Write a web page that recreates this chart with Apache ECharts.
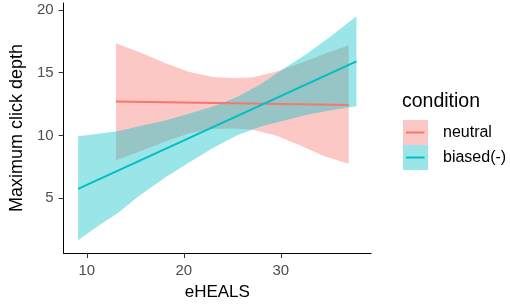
<!DOCTYPE html>
<html>
<head>
<meta charset="utf-8">
<script src="https://cdn.jsdelivr.net/npm/echarts@6/dist/echarts.min.js"></script>
<style>
  html, body { margin: 0; padding: 0; background: #fff; }
  #chart { width: 510px; height: 306px; }
</style>
</head>
<body>
<div id="chart"></div>
<script>
// neutral condition: fitted line + confidence band
const neutralLineX = [13, 37]
const neutralLineY = [12.70, 12.44]
const neutralBandX = [13, 15.5, 18, 20.5, 23, 25, 27, 29.5, 32, 34.5, 37]
const neutralUpper = [17.34, 16.6, 15.8, 15.07, 14.65, 14.58, 14.62, 15.07, 15.75, 16.5, 17.18]
const neutralLower = [8.04, 8.74, 9.5, 10.17, 10.53, 10.57, 10.48, 10.0, 9.2, 8.35, 7.75]

// biased(-) condition
const biasedLineX = [9.1, 37.8]
const biasedLineY = [5.75, 15.9]
const biasedBandX = [9.1, 11, 13.2, 15.5, 18.2, 20.5, 23, 25.5, 28, 30.2, 32.5, 35, 37.8]
const biasedUpper = [9.94, 10.12, 10.35, 10.76, 11.22, 11.73, 12.31, 13.07, 14.13, 15.28, 16.42, 17.8, 19.5]
const biasedLower = [1.67, 2.72, 3.83, 5.26, 6.72, 7.83, 9.01, 10.03, 10.73, 11.16, 11.62, 12.0, 12.34]

const xTicks = [10, 20, 30]
const yTicks = [5, 10, 15, 20]

const RED = '#F8766D'
const TEAL = '#00BFC4'
const FONT = 'Liberation Sans, Arial, sans-serif'

const chart = echarts.init(document.getElementById('chart'))

// 置信带：用一个多边形画整条带
const bandSeries = (name, xs, lo, hi, color) => ({
  name: name,
  type: 'custom',
  data: xs.map((x, i) => [x, lo[i], hi[i]]),
  encode: { x: 0, y: [1, 2] },
  renderItem: function (params, api) {
    if (params.dataIndex !== 0) return
    const pts = []
    for (let i = 0; i < xs.length; i++) pts.push(api.coord([xs[i], hi[i]]))
    for (let i = xs.length - 1; i >= 0; i--) pts.push(api.coord([xs[i], lo[i]]))
    return {
      type: 'polygon',
      shape: { points: pts },
      style: { fill: color, opacity: 0.4 }
    }
  },
  silent: true
})

const lineSeries = (name, xs, ys, color) => ({
  name: name,
  type: 'line',
  data: xs.map((x, i) => [x, ys[i]]),
  showSymbol: false,
  lineStyle: { color: color, width: 2 },
  itemStyle: { color: color },
  silent: true
})

const option = {
  animation: false,
  title: {
    text: 'condition',
    left: 402,
    top: 92,
    padding: 0,
    textStyle: { fontSize: 19.5, fontWeight: 'normal', color: '#000', fontFamily: FONT }
  },
  legend: {
    orient: 'vertical',
    left: 403,
    top: 120,
    padding: 0,
    itemWidth: 25,
    itemHeight: 25,
    itemGap: 0,
    icon: 'rect',
    selectedMode: false,
    data: [
      { name: 'neutral', itemStyle: { color: 'rgba(248,118,109,0.4)' } },
      { name: 'biased(-)', itemStyle: { color: 'rgba(0,191,196,0.4)' } }
    ],
    textStyle: { fontSize: 16, color: '#000', padding: [3, 0, 0, 10], fontFamily: FONT }
  },
  graphic: [
    { type: 'line', shape: { x1: 406, y1: 132.5, x2: 424.5, y2: 132.5 }, style: { stroke: RED, lineWidth: 2 } },
    { type: 'line', shape: { x1: 406, y1: 157.5, x2: 424.5, y2: 157.5 }, style: { stroke: TEAL, lineWidth: 2 } }
  ],
  grid: { left: 54, right: 139, top: 3, bottom: 51, containLabel: false },
  xAxis: {
    type: 'value',
    min: 7.6,
    max: 39.3,
    name: 'eHEALS',
    nameLocation: 'middle',
    nameGap: 31,
    nameTextStyle: { fontSize: 17, color: '#000', fontFamily: FONT },
    axisLine: { show: true, lineStyle: { color: '#000', width: 1 } },
    axisTick: { show: true, length: 5, lineStyle: { color: '#333' }, customValues: xTicks },
    axisLabel: { fontSize: 15, color: '#4d4d4d', margin: 10, customValues: xTicks, fontFamily: FONT },
    splitLine: { show: false }
  },
  yAxis: {
    type: 'value',
    min: 0.65,
    max: 20.55,
    name: 'Maximum click depth',
    nameLocation: 'middle',
    nameGap: 35,
    nameTextStyle: { fontSize: 18, color: '#000', fontFamily: FONT },
    axisLine: { show: true, lineStyle: { color: '#000', width: 1 } },
    axisTick: { show: true, length: 5, lineStyle: { color: '#333' }, customValues: yTicks },
    axisLabel: { fontSize: 15, color: '#4d4d4d', margin: 10, customValues: yTicks, fontFamily: FONT },
    splitLine: { show: false }
  },
  series: [
    bandSeries('neutral', neutralBandX, neutralLower, neutralUpper, RED),
    lineSeries('neutral fit', neutralLineX, neutralLineY, RED),
    bandSeries('biased(-)', biasedBandX, biasedLower, biasedUpper, TEAL),
    lineSeries('biased(-) fit', biasedLineX, biasedLineY, TEAL)
  ]
}

chart.setOption(option)
</script>
</body>
</html>
